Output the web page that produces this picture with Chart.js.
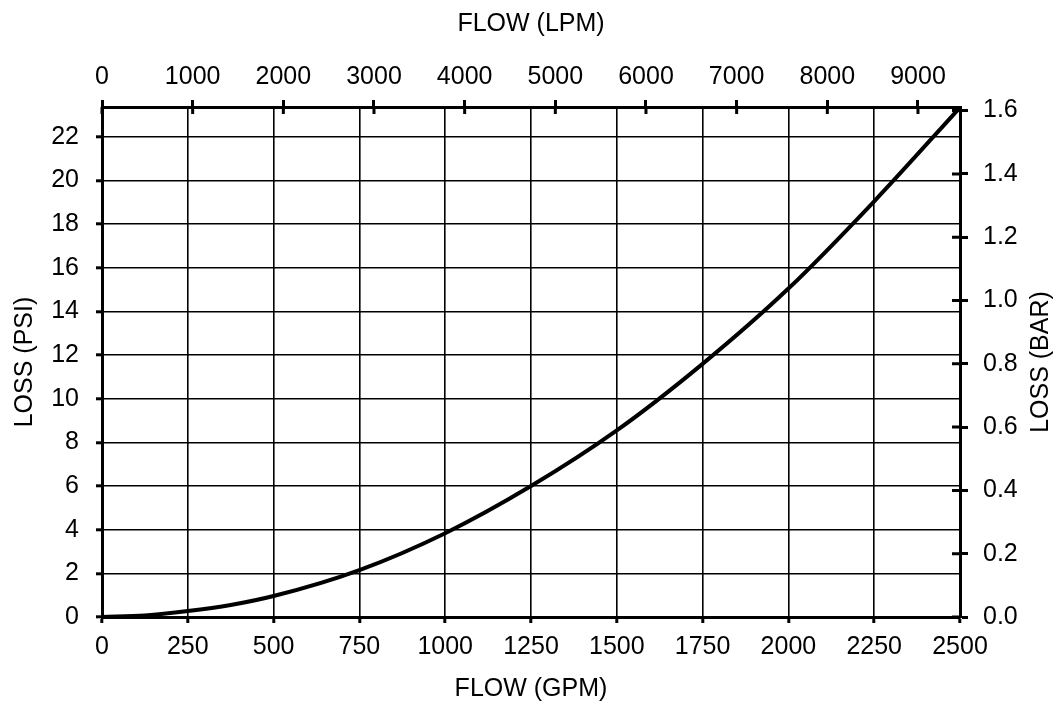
<!DOCTYPE html>
<html>
<head>
<meta charset="utf-8">
<script src="https://cdn.jsdelivr.net/npm/chart.js@4"></script>
<style>
  html, body { margin: 0; padding: 0; background: #fff; }
  canvas { display: block; }
</style>
</head>
<body>
<canvas id="chart" width="1062" height="713"></canvas>
<script>
// flow (gpm) and pressure loss (psi)
const flowGpm = [0, 125, 250, 375, 500, 750, 1000, 1250, 1500, 1750, 2000, 2250, 2500];
const lossPsi = [0, 0.07, 0.27, 0.55, 0.96, 2.15, 3.84, 6.0, 8.55, 11.6, 15.05, 19.05, 23.35];

// tick labels
const gpmTicks = [0, 250, 500, 750, 1000, 1250, 1500, 1750, 2000, 2250, 2500];
const lpmTicks = [0, 1000, 2000, 3000, 4000, 5000, 6000, 7000, 8000, 9000];
const psiTicks = [0, 2, 4, 6, 8, 10, 12, 14, 16, 18, 20, 22];
const barTicks = [0, 0.2, 0.4, 0.6, 0.8, 1.0, 1.2, 1.4, 1.6];

const gpmMax = 2500;
const psiMax = 23.37;
const lpmMax = gpmMax * 3.7854;
const barMax = psiMax / 14.5038;

Chart.defaults.font.family = "'Liberation Sans', Arial, sans-serif";
Chart.defaults.font.size = 25;
Chart.defaults.color = '#000';

const fixTicks = list => scale => { scale.ticks = list.map(v => ({ value: v })); };
const plain = v => String(v);

// inward halves of the top/right tick marks and the right title (reads upward)
const extras = {
    id: 'extras',
    afterDraw(chart) {
        const ctx = chart.ctx;
        const area = chart.chartArea;
        const top = chart.scales.x2, right = chart.scales.y2;
        ctx.save();
        ctx.strokeStyle = '#000';
        ctx.lineWidth = 3;
        ctx.beginPath();
        top.ticks.forEach(t => {
            const px = top.getPixelForValue(t.value);
            ctx.moveTo(px, area.top);
            ctx.lineTo(px, area.top + 7);
        });
        right.ticks.forEach(t => {
            const py = right.getPixelForValue(t.value);
            ctx.moveTo(area.right - 8, py);
            ctx.lineTo(area.right, py);
        });
        ctx.stroke();

        ctx.translate(1041, (area.top + area.bottom) / 2);
        ctx.rotate(-Math.PI / 2);
        ctx.fillStyle = '#000';
        ctx.font = "25px 'Liberation Sans', Arial, sans-serif";
        ctx.textAlign = 'center';
        ctx.textBaseline = 'middle';
        ctx.fillText('LOSS (BAR)', 0, 0);
        ctx.restore();
    }
};

new Chart(document.getElementById('chart'), {
    type: 'line',
    data: {
        datasets: [{
            data: flowGpm.map((x, i) => ({ x: x, y: lossPsi[i] })),
            borderColor: '#000',
            borderWidth: 4,
            pointRadius: 0,
            cubicInterpolationMode: 'monotone',
            fill: false,
            xAxisID: 'x',
            yAxisID: 'y'
        }]
    },
    options: {
        responsive: false,
        animation: false,
        layout: { padding: 0 },
        plugins: { legend: { display: false }, tooltip: { enabled: false } },
        scales: {
            x: {
                type: 'linear', position: 'bottom', min: 0, max: gpmMax,
                afterBuildTicks: fixTicks(gpmTicks),
                afterFit: s => { s.height = 96; },
                grid: { color: '#000', lineWidth: 1.6, tickLength: 6, tickWidth: 3, tickColor: '#000' },
                border: { color: '#000', width: 3 },
                ticks: { padding: 9, maxRotation: 0, autoSkip: false, callback: plain },
                title: { display: true, text: 'FLOW (GPM)', padding: { top: 0, bottom: 9 } }
            },
            x2: {
                type: 'linear', position: 'top', min: 0, max: lpmMax,
                afterBuildTicks: fixTicks(lpmTicks),
                afterFit: s => { s.height = 107; },
                grid: { drawOnChartArea: false, color: '#000', tickLength: 7, tickWidth: 3 },
                border: { color: '#000', width: 3 },
                ticks: { padding: 8, maxRotation: 0, autoSkip: false, callback: plain },
                title: { display: true, text: 'FLOW (LPM)', padding: { top: 9, bottom: 0 } }
            },
            y: {
                type: 'linear', position: 'left', min: 0, max: psiMax,
                afterBuildTicks: fixTicks(psiTicks),
                afterFit: s => { s.width = 102; },
                grid: { color: '#000', lineWidth: 1.6, tickLength: 6, tickWidth: 3, tickColor: '#000' },
                border: { color: '#000', width: 3 },
                ticks: { padding: 17, autoSkip: false, callback: plain },
                title: { display: true, text: 'LOSS (PSI)', padding: { top: 10, bottom: 0 } }
            },
            y2: {
                type: 'linear', position: 'right', min: 0, max: barMax,
                afterBuildTicks: fixTicks(barTicks),
                afterFit: s => { s.width = 102; },
                grid: { drawOnChartArea: false, color: '#000', tickLength: 8, tickWidth: 3 },
                border: { color: '#000', width: 3 },
                ticks: { padding: 15, autoSkip: false, callback: v => v.toFixed(1) }
            }
        }
    },
    plugins: [extras]
});
</script>
</body>
</html>
